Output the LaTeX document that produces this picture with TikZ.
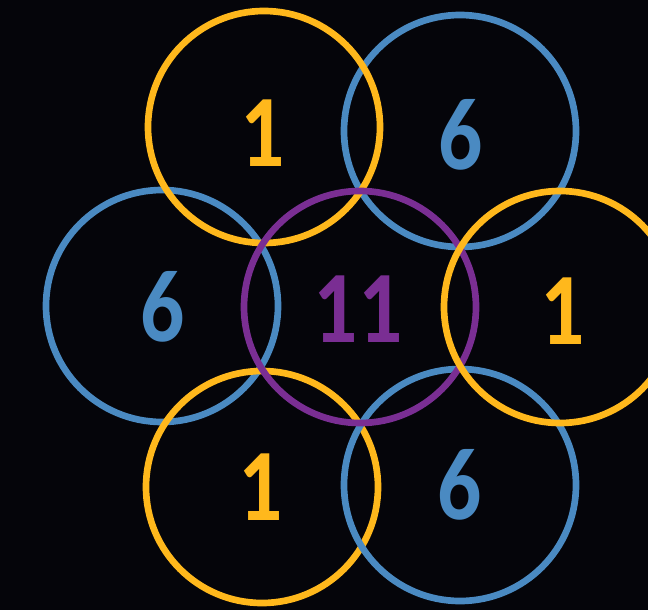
\documentclass[tikz,border=0pt]{standalone}
\usepackage{fontspec}
\setmainfont{Carlito}[FakeStretch=0.85]
\definecolor{bgc}{HTML}{05050A}
\definecolor{yel}{HTML}{FFB81C}
\definecolor{blu}{HTML}{4A8AC2}
\definecolor{pur}{HTML}{7A2E93}
\tikzset{
  ring/.style={draw=#1, line width=5pt},
  num/.style={text=#1, font=\fontsize{77}{80}\selectfont\bfseries, anchor=base, inner sep=0pt}
}
\begin{document}
\begin{tikzpicture}[x=0.75pt,y=-0.75pt]
\fill[bgc] (0,0) rectangle (648,610);
\useasboundingbox (0,0) rectangle (648,610);
\coordinate (tl) at (264,127);
\coordinate (tr) at (460,131);
\coordinate (ml) at (162,306);
\coordinate (c) at (360,307);
\coordinate (mr) at (560,307);
\coordinate (bl) at (262,487);
\coordinate (br) at (460,485);
\draw[ring=blu] (tr) circle[radius=87pt];
\draw[ring=blu] (ml) circle[radius=87pt];
\draw[ring=yel] (tl) circle[radius=87pt];
\draw[ring=yel] (bl) circle[radius=87pt];
\draw[ring=blu] (br) circle[radius=87pt];
\draw[ring=pur] (c) circle[radius=87pt];
\draw[ring=yel] (mr) circle[radius=87pt];
\node[num=yel] (t1) at (263,166) {1};
\node[num=blu] (t2) at (461,169) {6};
\node[num=blu] (t3) at (163,341) {6};
\node[num=pur] (t4) at (358,342) {11};
\node[num=yel] (t5) at (563,344) {1};
\node[num=yel] (t6) at (261,520) {1};
\node[num=blu] (t7) at (460,519) {6};
\end{tikzpicture}
\end{document}
